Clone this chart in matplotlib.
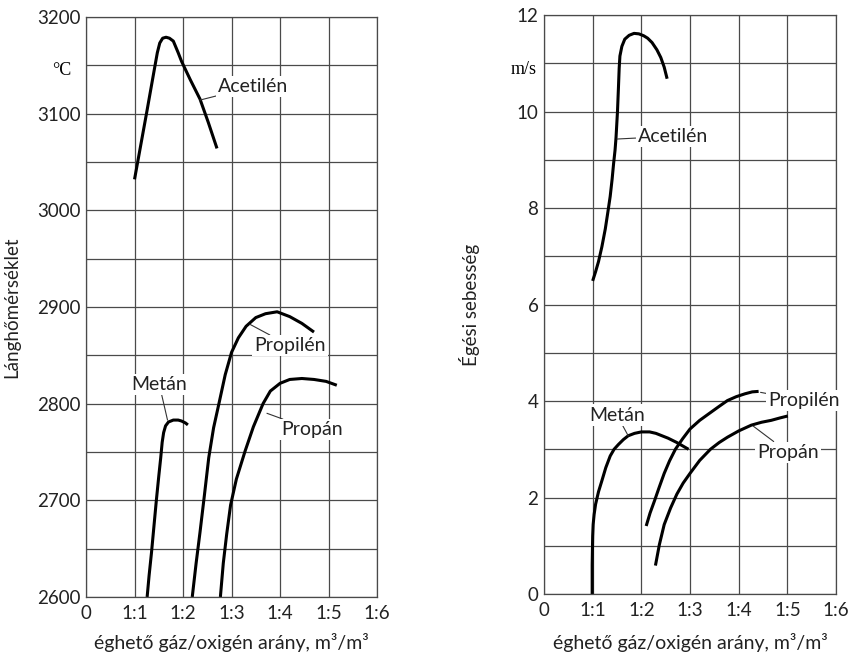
import matplotlib
matplotlib.use('Agg')
import matplotlib.pyplot as plt

plt.rcParams['font.family'] = ['Lato', 'DejaVu Sans']

# x axis: gas/oxygen ratio, 0 .. 1:6
ratio_ticks = [0, 1, 2, 3, 4, 5, 6]
ratio_labels = ['0', '1:1', '1:2', '1:3', '1:4', '1:5', '1:6']

# flame temperature, degC
temp_acetilen_x = [1.00, 1.25, 1.42, 1.47, 1.52, 1.58, 1.65, 1.72, 1.80, 1.90, 1.97, 2.15, 2.35, 2.52, 2.70]
temp_acetilen_y = [3032, 3101, 3149, 3163, 3173, 3178, 3179, 3178, 3175, 3163, 3154, 3135, 3115, 3091, 3064]
temp_metan_x = [1.26, 1.30, 1.35, 1.40, 1.45, 1.50, 1.54, 1.57, 1.60, 1.64, 1.70, 1.80, 1.90, 1.97, 2.05, 2.10]
temp_metan_y = [2600, 2622, 2646, 2673, 2700, 2725, 2744, 2760, 2770, 2777, 2781, 2783, 2783, 2782, 2780, 2778]
temp_propilen_x = [2.19, 2.27, 2.35, 2.44, 2.53, 2.63, 2.74, 2.87, 3.00, 3.14, 3.30, 3.50, 3.70, 3.94, 4.20, 4.45, 4.70]
temp_propilen_y = [2600, 2635, 2667, 2705, 2744, 2775, 2800, 2830, 2853, 2868, 2880, 2889, 2893, 2895, 2890, 2883, 2874]
temp_propan_x = [2.77, 2.83, 2.90, 2.98, 3.10, 3.28, 3.45, 3.65, 3.80, 4.00, 4.20, 4.45, 4.70, 4.95, 5.17]
temp_propan_y = [2600, 2635, 2665, 2695, 2722, 2751, 2776, 2800, 2813, 2821, 2825, 2826, 2825, 2823, 2819]

# burning velocity, m/s
vel_acetilen_x = [1.00, 1.06, 1.12, 1.19, 1.26, 1.31, 1.36, 1.40, 1.43, 1.46, 1.48, 1.51, 1.53, 1.545,
                  1.56, 1.60, 1.66, 1.75, 1.85, 1.95, 2.05, 2.13, 2.22, 2.32, 2.40, 2.47, 2.53]
vel_acetilen_y = [6.49, 6.68, 6.89, 7.20, 7.57, 7.90, 8.24, 8.60, 8.92, 9.20, 9.46, 10.0, 10.5, 10.9,
                  11.15, 11.35, 11.5, 11.58, 11.62, 11.61, 11.57, 11.52, 11.43, 11.28, 11.12, 10.92, 10.68]
vel_metan_x = [0.99, 0.99, 1.00, 1.01, 1.03, 1.06, 1.12, 1.19, 1.27, 1.36, 1.44, 1.53, 1.63, 1.73,
               1.86, 2.00, 2.17, 2.30, 2.40, 2.55, 2.73, 2.85, 2.97]
vel_metan_y = [0.0, 0.6, 1.2, 1.44, 1.65, 1.86, 2.12, 2.35, 2.62, 2.86, 3.00, 3.10, 3.20, 3.28,
               3.33, 3.36, 3.36, 3.33, 3.29, 3.23, 3.14, 3.07, 3.00]
vel_propilen_x = [2.10, 2.18, 2.27, 2.37, 2.47, 2.58, 2.70, 2.85, 3.00, 3.20, 3.42, 3.60, 3.77, 3.95,
                  4.13, 4.28, 4.41]
vel_propilen_y = [1.41, 1.68, 1.93, 2.22, 2.50, 2.76, 3.00, 3.22, 3.42, 3.60, 3.76, 3.89, 4.01, 4.09,
                  4.15, 4.19, 4.20]
vel_propan_x = [2.29, 2.37, 2.47, 2.60, 2.73, 2.86, 3.00, 3.20, 3.42, 3.60, 3.77, 4.00, 4.26, 4.47,
                4.67, 4.85, 5.01]
vel_propan_y = [0.59, 1.02, 1.44, 1.78, 2.07, 2.30, 2.50, 2.77, 3.00, 3.14, 3.25, 3.38, 3.50, 3.56,
                3.60, 3.65, 3.69]

xlabel = 'éghető gáz/oxigén arány, m³/m³'
grid_col = '#4a4a4a'
text_col = '#222222'
line_kw = dict(color='black', lw=2.2, solid_capstyle='butt', solid_joinstyle='round')
lab_box = dict(facecolor='white', edgecolor='none', pad=1.5)

fig = plt.figure(figsize=(8.5, 6.54), dpi=100)
ax1 = fig.add_axes([0.1012, 0.0872, 0.3424, 0.8869])
ax2 = fig.add_axes([0.64, 0.0917, 0.3435, 0.8853])


def style(ax, ymin, ymax, ystep, yminor, xpad):
    ax.set_xlim(0, 6)
    ax.set_ylim(ymin, ymax)
    ax.set_xticks(ratio_ticks)
    ax.set_xticklabels(ratio_labels)
    ax.set_yticks([ymin + i * ystep for i in range(int((ymax - ymin) / ystep) + 1)])
    ax.set_yticks([ymin + yminor + i * ystep for i in range(int((ymax - ymin) / ystep))], minor=True)
    ax.grid(True, which='both', color=grid_col, lw=0.9)
    ax.set_axisbelow(True)
    ax.tick_params(which='both', length=0, labelsize=13.5, colors=text_col)
    ax.tick_params(axis='x', pad=6)
    ax.tick_params(axis='y', pad=4)
    for s in ax.spines.values():
        s.set_color(grid_col)
        s.set_linewidth(0.9)
    ax.set_xlabel(xlabel, fontsize=14, labelpad=xpad, color=text_col)


ann_kw = dict(fontsize=14, ha='center', va='center', color=text_col, bbox=lab_box,
              arrowprops=dict(arrowstyle='-', color='#333333', lw=0.8, shrinkA=0, shrinkB=0))

# left panel - flame temperature
style(ax1, 2600, 3200, 100, 50, 8)
ax1.plot(temp_acetilen_x, temp_acetilen_y, **line_kw)
ax1.plot(temp_metan_x, temp_metan_y, **line_kw)
ax1.plot(temp_propilen_x, temp_propilen_y, **line_kw)
ax1.plot(temp_propan_x, temp_propan_y, **line_kw)
ax1.set_ylabel('Lánghőmérséklet', fontsize=13.5, labelpad=12, color=text_col)
ax1.text(-0.5, 3145, '°C', family='Liberation Serif', fontsize=13, ha='center', va='center',
         clip_on=False)

ax1.annotate('Acetilén', xy=(2.35, 3114), xytext=(3.45, 3128), **ann_kw)
ax1.annotate('Propilén', xy=(3.38, 2882), xytext=(4.2, 2860), **ann_kw)
ax1.annotate('Propán', xy=(3.73, 2790), xytext=(4.66, 2773), **ann_kw)
ax1.annotate('Metán', xy=(1.68, 2783), xytext=(1.51, 2820), **ann_kw)

# right panel - burning velocity
style(ax2, 0, 12, 2, 1, 10)
ax2.plot(vel_acetilen_x, vel_acetilen_y, **line_kw)
ax2.plot(vel_metan_x, vel_metan_y, **line_kw)
ax2.plot(vel_propilen_x, vel_propilen_y, **line_kw)
ax2.plot(vel_propan_x, vel_propan_y, **line_kw)
ax2.set_ylabel('Égési sebesség', fontsize=13.5, labelpad=26, color=text_col)
ax2.text(-0.41, 10.88, 'm/s', family='Liberation Serif', fontsize=13, ha='center', va='center',
         clip_on=False)

ax2.annotate('Acetilén', xy=(1.5, 9.43), xytext=(2.65, 9.49), **ann_kw)
ax2.annotate('Metán', xy=(1.73, 3.28), xytext=(1.5, 3.71), **ann_kw)
ax2.annotate('Propilén', xy=(4.45, 4.18), xytext=(5.34, 4.01), **ann_kw)
ax2.annotate('Propán', xy=(4.3, 3.48), xytext=(5.01, 2.94), **ann_kw)

fig.savefig('out.png', dpi=100)
